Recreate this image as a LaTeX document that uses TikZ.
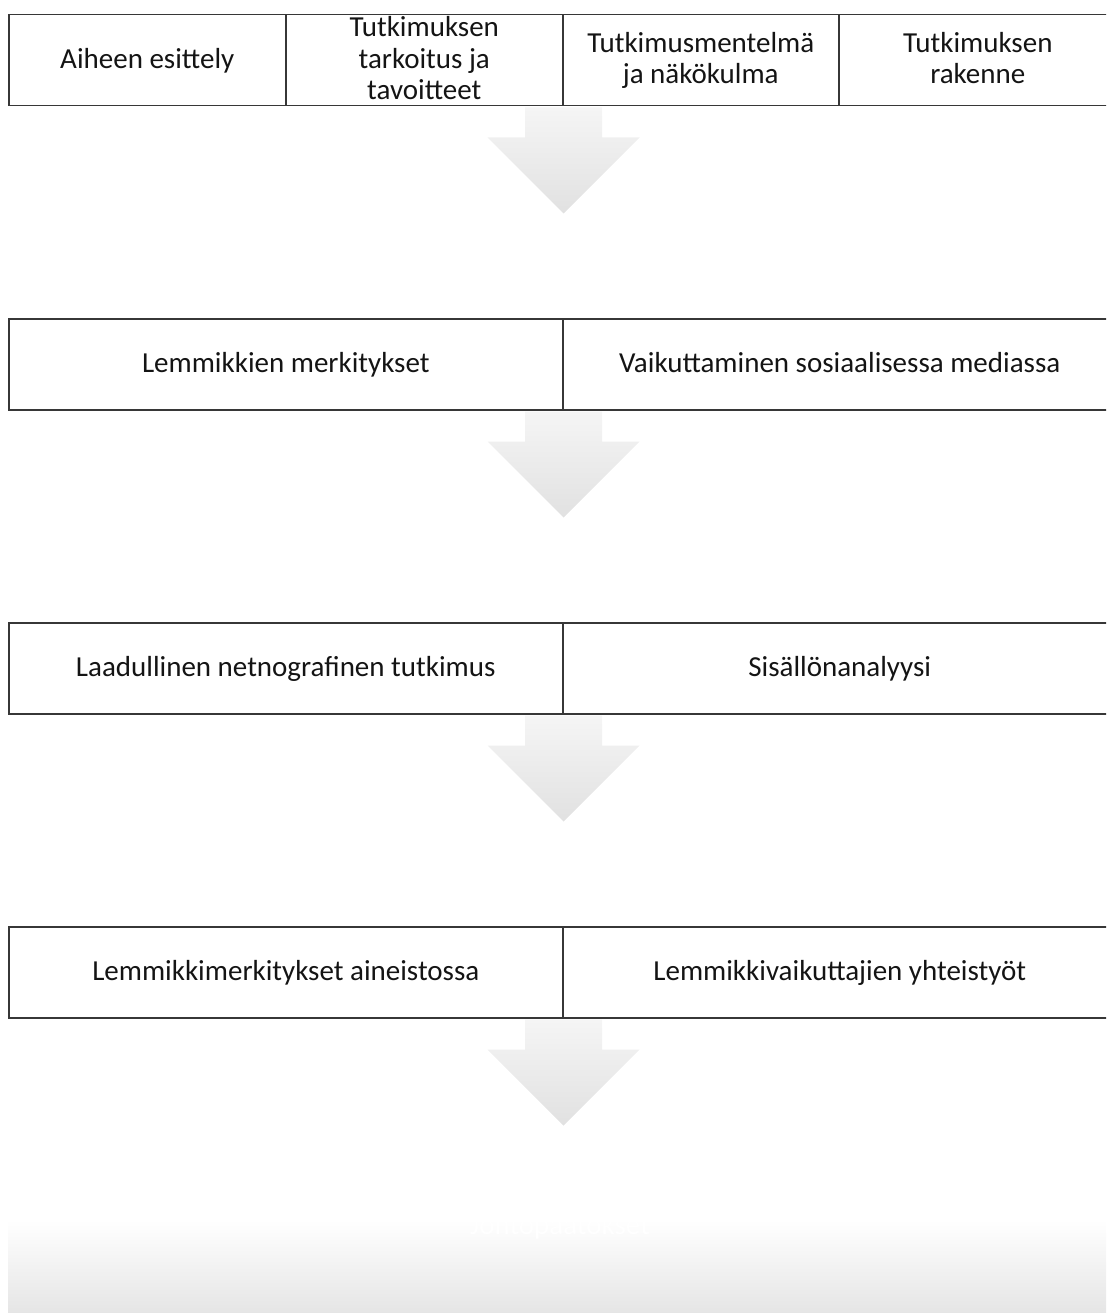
\documentclass[tikz,border=0pt]{standalone}
\usepackage{fontspec}
\setmainfont{Carlito}
\usetikzlibrary{calc}
\definecolor{linec}{RGB}{55,55,55}
\definecolor{textc}{RGB}{20,20,20}
\definecolor{arrtop}{RGB}{245,245,245}
\definecolor{arrbot}{RGB}{225,225,225}
\definecolor{endbot}{RGB}{227,227,227}
\newcommand\cellline[1]{\rule[-6pt]{0pt}{28pt}#1}
\tikzset{
  cell/.style={draw=linec, line width=1.5pt, minimum height=91, inner sep=0pt,
    align=center, anchor=north west, text=textc,
    font=\fontsize{29}{31.5}\selectfont},
  blockarrow/.style={top color=arrtop, bottom color=arrbot, draw=none},
}
\newcommand\flowarrow[1]{%
  \path[blockarrow] ($(#1)+(-38.5,1)$) -- ($(#1)+(38.5,1)$) -- ($(#1)+(38.5,31)$)
    -- ($(#1)+(76,31)$) -- ($(#1)+(0,107)$) -- ($(#1)+(-76,31)$)
    -- ($(#1)+(-38.5,31)$) -- cycle;}
\begin{document}
\begin{tikzpicture}[x=1pt,y=-1pt]
\useasboundingbox (0,0) rectangle (1106,1313);
\clip (0,0) rectangle (1106,1313);
% row 1
\node[cell, minimum width=277] (a1) at (8,14) {\cellline{Aiheen esittely}};
\node[cell, minimum width=277] (a2) at (285,14) {\cellline{Tutkimuksen}\\\cellline{tarkoitus ja}\\\cellline{tavoitteet}};
\node[cell, minimum width=276] (a3) at (562,14) {\cellline{Tutkimusmentelmä}\\\cellline{ja näkökulma}};
\node[cell, minimum width=278] (a4) at (838,14) {\cellline{Tutkimuksen}\\\cellline{rakenne}};
% row 2
\node[cell, minimum width=554] (b1) at (8,318) {\cellline{Lemmikkien merkitykset}};
\node[cell, minimum width=554] (b2) at (562,318) {\cellline{Vaikuttaminen sosiaalisessa mediassa}};
% row 3
\node[cell, minimum width=554] (c1) at (8,622) {\cellline{Laadullinen netnografinen tutkimus}};
\node[cell, minimum width=554] (c2) at (562,622) {\cellline{Sisällönanalyysi}};
% row 4
\node[cell, minimum width=554] (d1) at (8,926) {\cellline{Lemmikkimerkitykset aineistossa}};
\node[cell, minimum width=554] (d2) at (562,926) {\cellline{Lemmikkivaikuttajien yhteistyöt}};
% arrows
\flowarrow{a2.south east}
\flowarrow{b1.south east}
\flowarrow{c1.south east}
\flowarrow{d1.south east}
% final box
\node[anchor=north west, minimum width=1110, minimum height=100, inner sep=0pt,
  top color=white, bottom color=endbot] (e) at (8,1220) {};
\node[text=white, font=\fontsize{29}{32}\selectfont] (et) at (560,1227) {Johtopäätökset};
\end{tikzpicture}
\end{document}
